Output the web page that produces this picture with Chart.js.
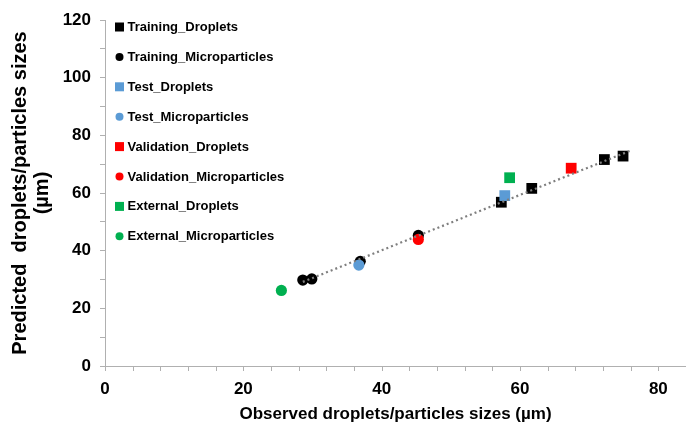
<!DOCTYPE html>
<html>
<head>
<meta charset="utf-8">
<script src="https://cdn.jsdelivr.net/npm/chart.js@4/dist/chart.umd.min.js"></script>
<style>
  html, body { margin: 0; padding: 0; background: #fff; overflow: hidden; }
  #wrap { width: 686px; height: 425px; }
  canvas { display: block; }
</style>
</head>
<body>
<div id="wrap"><canvas id="c" width="686" height="425"></canvas></div>
<script>
// Observed (x) vs predicted (y) sizes in µm, per data subset
const trainingDroplets = [[57.3, 56.8], [61.7, 61.6], [72.2, 71.6], [74.9, 72.8]];
const trainingMicro    = [[28.6, 29.8], [29.9, 30.2], [36.9, 36.3], [45.3, 45.3]];
const testDroplets     = [[57.8, 59.1]];
const testMicro        = [[36.7, 35.0]];
const validDroplets    = [[67.4, 68.6]];
const validMicro       = [[45.3, 43.9]];
const externalDroplets = [[58.5, 65.3]];
const externalMicro    = [[25.5, 26.2]];

const seriesNames = [
  'Training_Droplets', 'Training_Microparticles',
  'Test_Droplets', 'Test_Microparticles',
  'Validation_Droplets', 'Validation_Microparticles',
  'External_Droplets', 'External_Microparticles'
];
const seriesData = [trainingDroplets, trainingMicro, testDroplets, testMicro,
                    validDroplets, validMicro, externalDroplets, externalMicro];
const seriesColors = ['#000000', '#000000', '#5b9bd5', '#5b9bd5',
                      '#ff0000', '#ff0000', '#00b050', '#00b050'];
const seriesShapes = ['rect', 'circle', 'rect', 'circle', 'rect', 'circle', 'rect', 'circle'];

const xTickLabels = [0, 20, 40, 60, 80];
const yTickLabels = [0, 20, 40, 60, 80, 100, 120];

// Least-squares line through the training points
const trainPts = trainingDroplets.concat(trainingMicro);
const n = trainPts.length;
const mx = trainPts.reduce((s, p) => s + p[0], 0) / n;
const my = trainPts.reduce((s, p) => s + p[1], 0) / n;
let sxy = 0, sxx = 0;
trainPts.forEach(p => { sxy += (p[0] - mx) * (p[1] - my); sxx += (p[0] - mx) ** 2; });
const slope = sxy / sxx, icpt = my - slope * mx;
const xs = trainPts.map(p => p[0]);
const x0 = Math.min(...xs), x1 = Math.max(...xs) + 1;

const FONT = "'Liberation Sans', Arial, sans-serif";
const AXIS_GRAY = '#b0b0b0';

const datasets = seriesNames.map((name, i) => ({
  label: name,
  data: seriesData[i].map(p => ({ x: p[0], y: p[1] })),
  pointStyle: seriesShapes[i],
  pointRadius: seriesShapes[i] === 'rect' ? 7.6 : 5.6,
  backgroundColor: seriesColors[i],
  borderColor: seriesColors[i],
  borderWidth: 0,
  showLine: false,
  order: 20 - i
}));
datasets.push({
  label: 'trend',
  data: [{ x: x0, y: slope * x0 + icpt }, { x: x1, y: slope * x1 + icpt }],
  showLine: true,
  borderColor: '#7f7f7f',
  borderWidth: 2.2,
  borderDash: [2, 3],
  pointRadius: 0,
  order: 0
});

// Legend drawn inside the plot, one entry per row
const sideLegend = {
  id: 'sideLegend',
  afterDraw(chart) {
    const ctx = chart.ctx;
    ctx.save();
    ctx.font = `bold 13px ${FONT}`;
    ctx.textBaseline = 'middle';
    seriesNames.forEach((name, i) => {
      const y = 27 + i * 29.9;
      ctx.fillStyle = seriesColors[i];
      if (seriesShapes[i] === 'rect') {
        ctx.fillRect(115, y - 4.5, 9, 9);
      } else {
        ctx.beginPath();
        ctx.arc(119.5, y, 4, 0, Math.PI * 2);
        ctx.fill();
      }
      ctx.fillStyle = '#000';
      ctx.fillText(name, 127.5, y + 0.5);
    });
    ctx.restore();
  }
};

// Short outward tick marks on the x axis (the scale's own marks are hidden so
// that the label gap does not eat into the right edge of the plot)
const xTickMarks = {
  id: 'xTickMarks',
  afterDraw(chart) {
    const s = chart.scales.x, ctx = chart.ctx;
    ctx.save();
    ctx.strokeStyle = AXIS_GRAY;
    ctx.lineWidth = 1;
    s.ticks.forEach((t, i) => {
      const px = Math.round(s.getPixelForTick(i)) + 0.5;
      ctx.beginPath();
      ctx.moveTo(px, s.top);
      ctx.lineTo(px, s.top + 5);
      ctx.stroke();
    });
    ctx.restore();
  }
};

new Chart(document.getElementById('c'), {
  type: 'scatter',
  data: { datasets },
  plugins: [sideLegend, xTickMarks],
  options: {
    responsive: false,
    animation: false,
    layout: { autoPadding: false, padding: { top: 20, right: 0, left: 0, bottom: 0 } },
    plugins: { legend: { display: false }, tooltip: { enabled: false } },
    scales: {
      x: {
        type: 'linear',
        min: 0, max: 84,
        afterFit(s) { s.height = 59; },
        ticks: {
          stepSize: 4,
          autoSkip: false,
          maxRotation: 0,
          padding: 0,
          color: '#000',
          font: { family: FONT, size: 17, weight: 'bold' },
          callback: v => xTickLabels.includes(v) ? String(v) : ''
        },
        grid: { drawOnChartArea: false, drawTicks: true, tickLength: 13, tickColor: 'rgba(0,0,0,0)', color: AXIS_GRAY },
        border: { color: AXIS_GRAY, width: 1 },
        title: {
          display: true,
          text: 'Observed droplets/particles sizes (µm)',
          color: '#000',
          font: { family: FONT, size: 17, weight: 'bold' },
          padding: { top: 1, bottom: 0 }
        }
      },
      y: {
        type: 'linear',
        min: 0, max: 120,
        afterFit(s) { s.width = 105; },
        ticks: {
          stepSize: 10,
          autoSkip: false,
          padding: 9,
          color: '#000',
          font: { family: FONT, size: 17, weight: 'bold' },
          callback: v => yTickLabels.includes(v) ? String(v) : ''
        },
        grid: { drawOnChartArea: false, drawTicks: true, tickLength: 5, color: AXIS_GRAY },
        border: { color: AXIS_GRAY, width: 1 },
        title: {
          display: true,
          text: ['Predicted  droplets/particles sizes', '(µm)'],
          color: '#000',
          font: { family: FONT, size: 20, weight: 'bold', lineHeight: 1.1 },
          padding: { top: 9, bottom: 0 }
        }
      }
    }
  }
});
</script>
</body>
</html>
